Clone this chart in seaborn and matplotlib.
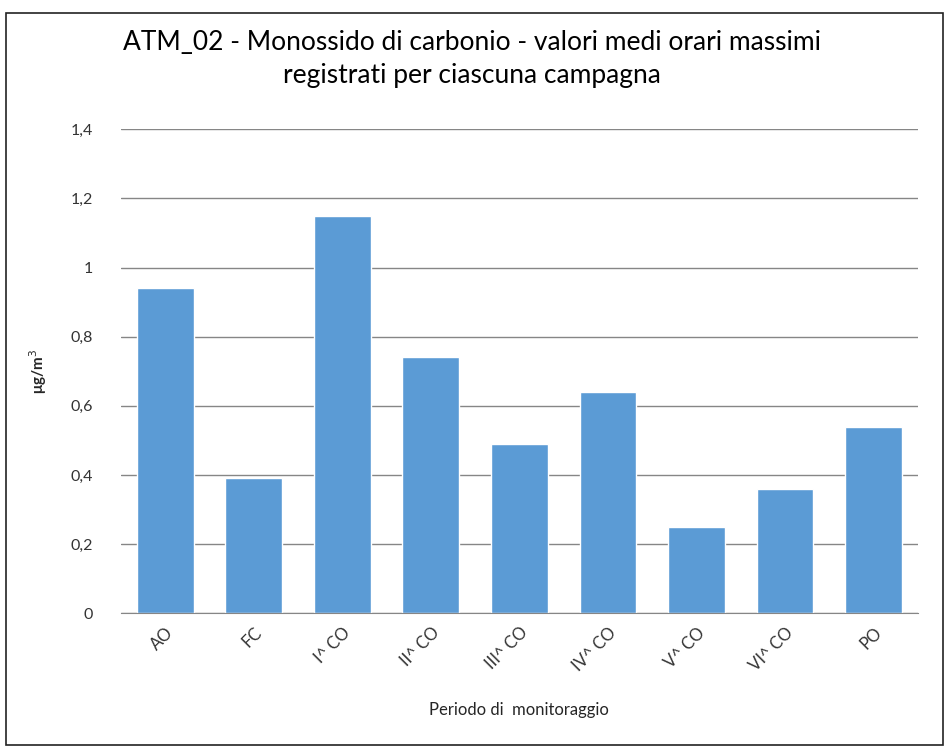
import numpy as np
import pandas as pd
import matplotlib.pyplot as plt
import seaborn as sns
from matplotlib.patches import Rectangle

sns.set_style("white")
plt.rcParams['font.family'] = ['Lato', 'DejaVu Sans']

# Dati
periodi = ['AO', 'FC', 'I^ CO', 'II^ CO', 'III^ CO', 'IV^ CO', 'V^ CO', 'VI^ CO', 'PO']
valori = [0.94, 0.39, 1.15, 0.74, 0.49, 0.64, 0.25, 0.36, 0.54]
y_ticks = [0, 0.2, 0.4, 0.6, 0.8, 1.0, 1.2, 1.4]
y_tick_labels = ['0', '0,2', '0,4', '0,6', '0,8', '1', '1,2', '1,4']

df = pd.DataFrame({'Periodo': periodi, 'Valore': valori})

fig = plt.figure(figsize=(9.49, 7.47), dpi=100)
ax = fig.add_axes([0.1275, 0.179, 0.8395, 0.648])

# cornice esterna
fig.patches.append(Rectangle((0.006, 0.003), 0.988, 0.98, transform=fig.transFigure,
                             fill=False, edgecolor='#222222', linewidth=1.2))

sns.barplot(data=df, x='Periodo', y='Valore', color='#5B9BD5', width=0.64,
            saturation=1, ax=ax, zorder=3)

ax.set_ylim(0, 1.4)
ax.set_yticks(y_ticks)
ax.set_yticklabels(y_tick_labels, fontsize=11.5, color='#333333')
ax.yaxis.grid(True, color='#868686', linewidth=1)
ax.set_axisbelow(True)
for s in ['top', 'right', 'left']:
    ax.spines[s].set_visible(False)
ax.spines['bottom'].set_color('#868686')
ax.spines['bottom'].set_zorder(4)
ax.tick_params(axis='y', length=0, pad=20)
ax.tick_params(axis='x', length=0, pad=8)
plt.setp(ax.get_xticklabels(), rotation=45, ha='right', rotation_mode='anchor',
         fontsize=12, color='#333333')

ax.set_xlabel('Periodo di  monitoraggio', fontsize=12, labelpad=20)
ax.set_ylabel('μg/m$^3$', fontsize=11, fontweight='bold', labelpad=4)
ax.yaxis.set_label_coords(-0.09, 0.5)

fig.text(0.497, 0.921, 'ATM_02 - Monossido di carbonio - valori medi orari massimi\nregistrati per ciascuna campagna',
         ha='center', va='center', fontsize=19, linespacing=1.4, color='#000000')

fig.savefig('out.png', dpi=100)
